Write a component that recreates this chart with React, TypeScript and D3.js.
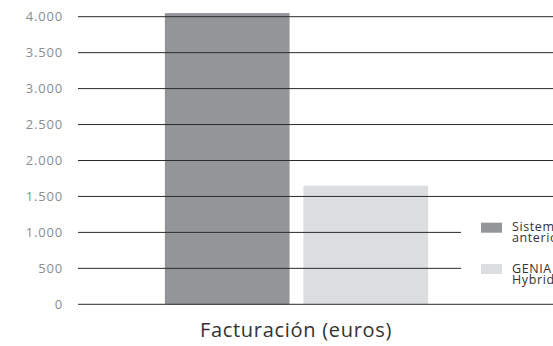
import React from "react";
import * as d3 from "d3";

const categories = ["Sistema anterior", "GENIA Hybrid"];
const values = [4050, 1650];
const tickValues = [0, 500, 1000, 1500, 2000, 2500, 3000, 3500, 4000];
const legendLines = [["Sistema", "anterior"], ["GENIA", "Hybrid"]];
const colors = ["#939598", "#dcdddf"];
const axisTitle = "Facturación (euros)";

const W = 553;
const H = 346;
const fontFamily = "'Open Sans', 'Noto Sans', sans-serif";

export default function App() {
  const y = d3.scaleLinear().domain([0, 4000]).range([304.3, 16.7]);
  const x = d3.scaleBand<string>().domain(categories).range([151, 442]).paddingInner(0.1).paddingOuter(0.1);
  const fmt = (v: number) => d3.format(",")(v).replace(/,/g, ".");

  return (
    <svg width={W} height={H} style={{ position: "absolute", left: 0, top: 0 }} fontFamily={fontFamily}>
      <rect width={W} height={H} fill="#fff" />
      {categories.map((c, i) => (
        <rect key={c} x={x(c)} y={y(values[i])} width={x.bandwidth()} height={y(0) - y(values[i])} fill={colors[i]} />
      ))}
      {tickValues.map((t) => (
        <g key={t}>
          <line x1={78} x2={t > 0 && t <= 1000 ? 461 : W} y1={y(t)} y2={y(t)} stroke="#2b2b2b" strokeWidth={1} />
          <text x={63} y={y(t)} dy="0.35em" textAnchor="end" fontSize={13} letterSpacing={0.8} fill="#8c8c8c">
            {fmt(t)}
          </text>
        </g>
      ))}
      {categories.map((c, i) => (
        <g key={"lg" + c} transform={`translate(481, ${222.7 + i * 41.3})`}>
          <rect width={21} height={10} fill={colors[i]} />
          <text x={31} y={8.5} fontSize={12.5} letterSpacing={0.6} fill="#333">
            <tspan x={31}>{legendLines[i][0]}</tspan>
            <tspan x={31} dy={11}>{legendLines[i][1]}</tspan>
          </text>
        </g>
      ))}
      <text x={296} y={337} textAnchor="middle" fontSize={20} letterSpacing={0.7} fill="#333">
        {axisTitle}
      </text>
    </svg>
  );
}
